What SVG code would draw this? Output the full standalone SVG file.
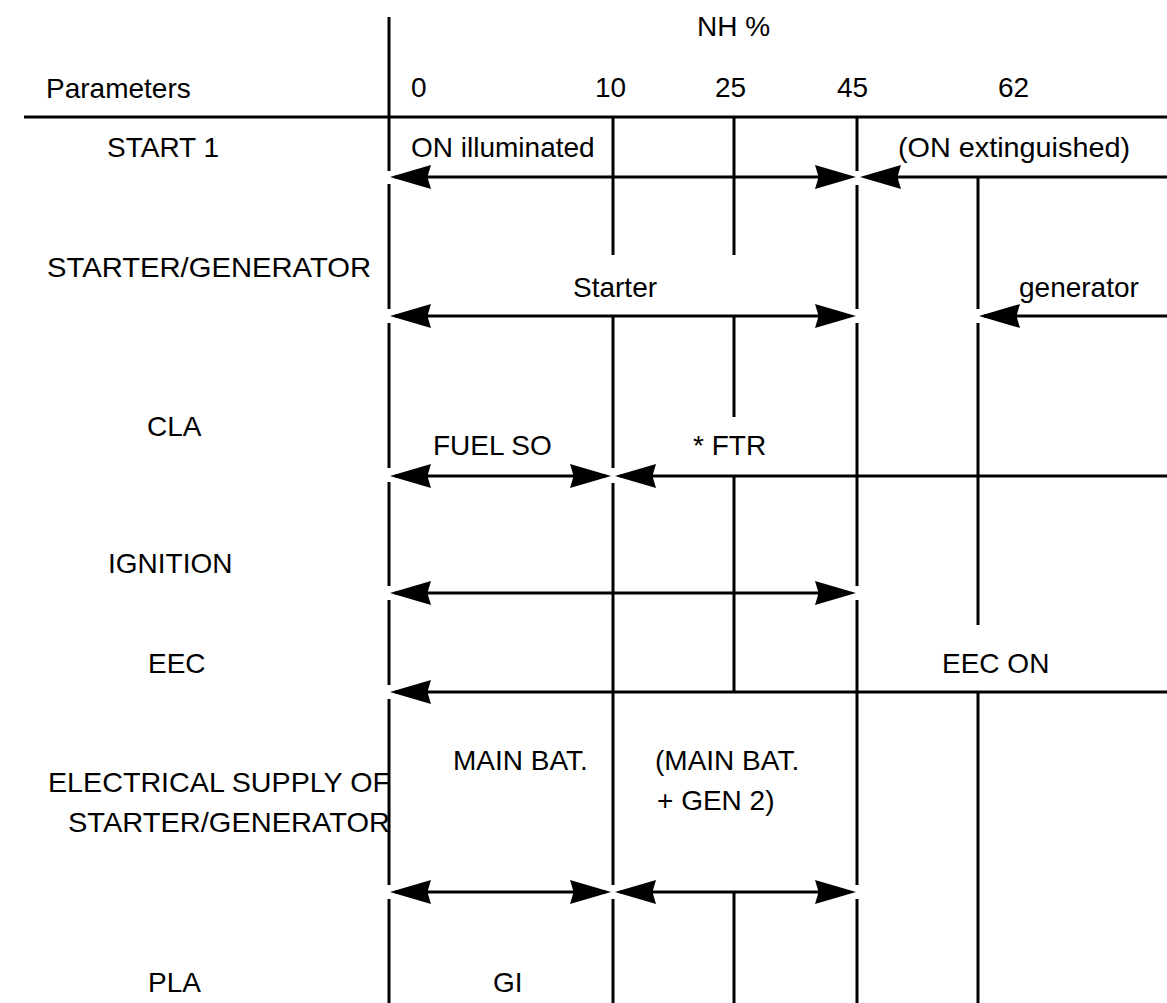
<svg xmlns="http://www.w3.org/2000/svg" xmlns:xlink="http://www.w3.org/1999/xlink" width="1167" height="1003" viewBox="0 0 1167 1003">
<style>
text{font-family:"Liberation Sans",Arial,sans-serif;font-size:28px;fill:#000}
.ln{stroke:#000;stroke-width:3;fill:none}
.ah{fill:#000}
</style>
<defs>
<path id="ahL" d="M0,0 L41,-12 L38,-2 L38,2 L41,12 Z"/>
<path id="ahR" d="M0,0 L-41,-12 L-38,-2 L-38,2 L-41,12 Z"/>
</defs>
<rect width="1167" height="1003" fill="#fff"/>
<g id="connectors">
<path class="ln" d="M24,117 H1167"/>
<path class="ln" d="M389,17 V171 M389,184 V309 M389,323 V468 M389,482 V586 M389,600 V685 M389,699 V885 M389,899 V1003"/>
<path class="ln" d="M613,117 V255 M613,316 V468 M613,483 V885 M613,899 V1003"/>
<path class="ln" d="M734,117 V255 M734,316 V417 M734,476 V692 M734,892 V1003"/>
<path class="ln" d="M857,117 V171 M857,185 V309 M857,323 V586 M857,600 V885 M857,899 V1003"/>
<path class="ln" d="M978,177 V309 M978,323 V625 M978,692 V1003"/>
<path class="ln" d="M395,177 H850 M866,177 H1167"/>
<path class="ln" d="M395,316 H850 M984,316 H1167"/>
<path class="ln" d="M395,476 H606 M620,476 H1167"/>
<path class="ln" d="M395,593 H850"/>
<path class="ln" d="M395,692 H1167"/>
<path class="ln" d="M395,892 H606 M620,892 H850"/>
<g class="ah">
<use xlink:href="#ahL" x="390" y="177"/><use xlink:href="#ahR" x="856" y="177"/><use xlink:href="#ahL" x="860" y="177"/>
<use xlink:href="#ahL" x="390" y="316"/><use xlink:href="#ahR" x="856" y="316"/><use xlink:href="#ahL" x="979" y="316"/>
<use xlink:href="#ahL" x="390" y="476"/><use xlink:href="#ahR" x="611" y="476"/><use xlink:href="#ahL" x="615" y="476"/>
<use xlink:href="#ahL" x="390" y="593"/><use xlink:href="#ahR" x="856" y="593"/>
<use xlink:href="#ahL" x="390" y="692"/>
<use xlink:href="#ahL" x="390" y="892"/><use xlink:href="#ahR" x="611" y="892"/><use xlink:href="#ahL" x="615" y="892"/><use xlink:href="#ahR" x="856" y="892"/>
</g>
</g>
<g id="header">
<text x="697" y="36">NH %</text>
<text x="46" y="98">Parameters</text>
<text x="411" y="97">0</text>
<text x="595" y="97">10</text>
<text x="715" y="97">25</text>
<text x="837" y="97">45</text>
<text x="998" y="97">62</text>
</g>
<g id="row-start1">
<text x="107" y="157">START 1</text>
<text x="411" y="157">ON illuminated</text>
<text x="898" y="157" textLength="232" lengthAdjust="spacingAndGlyphs">(ON extinguished)</text>
</g>
<g id="row-startergen">
<text x="47" y="277" textLength="324" lengthAdjust="spacingAndGlyphs">STARTER/GENERATOR</text>
<text x="573" y="297">Starter</text>
<text x="1019" y="297">generator</text>
</g>
<g id="row-cla">
<text x="147" y="436">CLA</text>
<text x="433" y="455">FUEL SO</text>
<text x="693" y="455">* FTR</text>
</g>
<g id="row-ignition">
<text x="108" y="573">IGNITION</text>
</g>
<g id="row-eec">
<text x="148" y="673">EEC</text>
<text x="942" y="673">EEC ON</text>
</g>
<g id="row-elec">
<text x="48" y="792" textLength="342" lengthAdjust="spacingAndGlyphs">ELECTRICAL SUPPLY OF</text>
<text x="68" y="832" textLength="322" lengthAdjust="spacingAndGlyphs">STARTER/GENERATOR</text>
<text x="453" y="770">MAIN BAT.</text>
<text x="655" y="770">(MAIN BAT.</text>
<text x="657" y="810">+ GEN 2)</text>
</g>
<g id="row-pla">
<text x="148" y="992">PLA</text>
<text x="493" y="992">GI</text>
</g>
</svg>
